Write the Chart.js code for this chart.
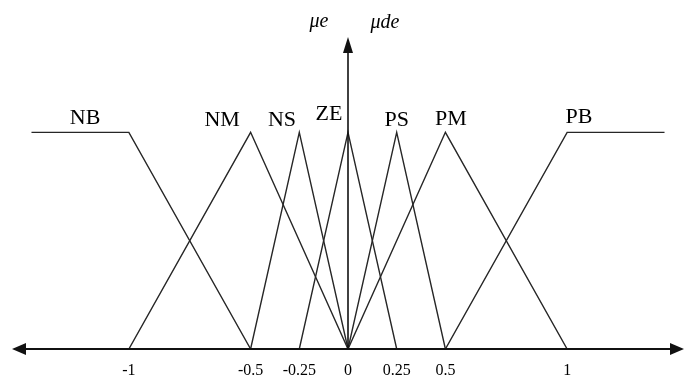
<!DOCTYPE html>
<html>
<head>
<meta charset="utf-8">
<script src="https://cdn.jsdelivr.net/npm/chart.js@4/dist/chart.umd.min.js"></script>
<style>
  html, body { margin: 0; padding: 0; background: #fff; }
  #wrap { width: 688px; height: 380px; }
</style>
</head>
<body>
<div id="wrap"><canvas id="c" width="688" height="380"></canvas></div>
<script>
// ---- data (fuzzy membership functions) ----
const termLabels = ['NB', 'NM', 'NS', 'ZE', 'PS', 'PM', 'PB'];
const nbX = [-1.5, -1, -0.5],  nbMu = [1, 1, 0];
const nmX = [-1, -0.5, 0],     nmMu = [0, 1, 0];
const nsX = [-0.5, -0.25, 0],  nsMu = [0, 1, 0];
const zeX = [-0.25, 0, 0.25],  zeMu = [0, 1, 0];
const psX = [0, 0.25, 0.5],    psMu = [0, 1, 0];
const pmX = [0, 0.5, 1],       pmMu = [0, 1, 0];
const pbX = [0.5, 1, 1.5],     pbMu = [0, 1, 1];
const tickValues = [-1, -0.5, -0.25, 0, 0.25, 0.5, 1];
const tickLabels = ['-1', '-0.5', '-0.25', '0', '0.25', '0.5', '1'];
const axisLabels = ['\u03BCe', '\u03BCde'];

// ---- schematic (piecewise) axis: hand-drawn sketch stretches 0.5..1 band ----
class SchematicScale extends Chart.LinearScale {
  static id = 'schematic';
  warp(v) {
    const a = Math.abs(v), s = Math.sign(v);
    let w;
    if (a <= 0.5) w = a;
    else if (a <= 1) w = 0.5 + (a - 0.5) * 1.25;
    else w = 1.125 + (a - 1);
    return s * w;
  }
  unwarp(w) {
    const a = Math.abs(w), s = Math.sign(w);
    let v;
    if (a <= 0.5) v = a;
    else if (a <= 1.125) v = 0.5 + (a - 0.5) / 1.25;
    else v = 1 + (a - 1.125);
    return s * v;
  }
  getPixelForValue(value) {
    const w0 = this.warp(this.min), w1 = this.warp(this.max);
    return this.getPixelForDecimal((this.warp(value) - w0) / (w1 - w0));
  }
  getValueForPixel(pixel) {
    const w0 = this.warp(this.min), w1 = this.warp(this.max);
    return this.unwarp(w0 + this.getDecimalForPixel(pixel) * (w1 - w0));
  }
}
Chart.register(SchematicScale);

const pairs = (xs, ys) => xs.map((x, i) => ({ x: x, y: ys[i] }));
const series = [
  pairs(nbX, nbMu), pairs(nmX, nmMu), pairs(nsX, nsMu), pairs(zeX, zeMu),
  pairs(psX, psMu), pairs(pmX, pmMu), pairs(pbX, pbMu)
];

const labelStyle = {
  // label anchor along x (data units) and lift above the peak (px)
  anchorX: [-1.225, -0.617, -0.339, -0.098, 0.25, 0.523, 1.061],
  lift: [14, 12, 12, 18, 12, 13, 15]
};

const decor = {
  id: 'decor',
  afterDatasetsDraw(chart) {
    const { ctx, chartArea } = chart;
    const xs = chart.scales.x, ys = chart.scales.y;
    const y0 = ys.getPixelForValue(0);
    const x0 = xs.getPixelForValue(0);
    const L = chartArea.left, R = chartArea.right, T = chartArea.top;
    ctx.save();
    ctx.strokeStyle = '#111';
    ctx.fillStyle = '#111';
    ctx.lineWidth = 2;
    // horizontal axis
    ctx.beginPath(); ctx.moveTo(L + 8, y0); ctx.lineTo(R - 8, y0); ctx.stroke();
    ctx.beginPath(); ctx.moveTo(L, y0); ctx.lineTo(L + 14, y0 - 6); ctx.lineTo(L + 14, y0 + 6); ctx.closePath(); ctx.fill();
    ctx.beginPath(); ctx.moveTo(R, y0); ctx.lineTo(R - 14, y0 - 6); ctx.lineTo(R - 14, y0 + 6); ctx.closePath(); ctx.fill();
    // vertical axis
    ctx.lineWidth = 1.6;
    ctx.beginPath(); ctx.moveTo(x0, y0); ctx.lineTo(x0, T + 8); ctx.stroke();
    ctx.beginPath(); ctx.moveTo(x0, T); ctx.lineTo(x0 - 5, T + 16); ctx.lineTo(x0 + 5, T + 16); ctx.closePath(); ctx.fill();
    // axis names
    ctx.fillStyle = '#000';
    ctx.font = 'italic 20px "Liberation Serif", serif';
    ctx.textAlign = 'center'; ctx.textBaseline = 'middle';
    ctx.fillText(axisLabels[0], x0 - 29, T - 15);
    ctx.fillText(axisLabels[1], x0 + 37, T - 14);
    // term names
    ctx.font = '22px "Liberation Serif", serif';
    const yPeak = ys.getPixelForValue(1);
    termLabels.forEach((t, i) => {
      ctx.fillText(t, xs.getPixelForValue(labelStyle.anchorX[i]), yPeak - labelStyle.lift[i]);
    });
    ctx.restore();
  }
};

new Chart(document.getElementById('c'), {
  type: 'scatter',
  data: {
    datasets: series.map((pts, i) => ({
      label: termLabels[i],
      data: pts,
      showLine: true,
      borderColor: '#262626',
      borderWidth: 1.4,
      pointRadius: 0,
      pointHoverRadius: 0,
      tension: 0,
      fill: false
    }))
  },
  options: {
    responsive: false,
    animation: false,
    events: [],
    layout: { padding: { top: 37, left: 12, right: 4, bottom: 0 } },
    plugins: { legend: { display: false }, tooltip: { enabled: false } },
    scales: {
      x: {
        type: 'schematic',
        min: -1.6,
        max: 1.6,
        grid: { display: false, drawTicks: false },
        border: { display: false },
        afterBuildTicks: (scale) => { scale.ticks = tickValues.map(v => ({ value: v })); },
        afterFit: (scale) => { scale.height = 31; },
        ticks: {
          autoSkip: false,
          maxRotation: 0,
          padding: 12,
          color: '#000',
          font: { family: '"Liberation Serif", serif', size: 16 },
          callback: (v, i) => tickLabels[i]
        }
      },
      y: {
        type: 'linear',
        min: 0,
        max: 1.44,
        display: false
      }
    }
  },
  plugins: [decor]
});
</script>
</body>
</html>
